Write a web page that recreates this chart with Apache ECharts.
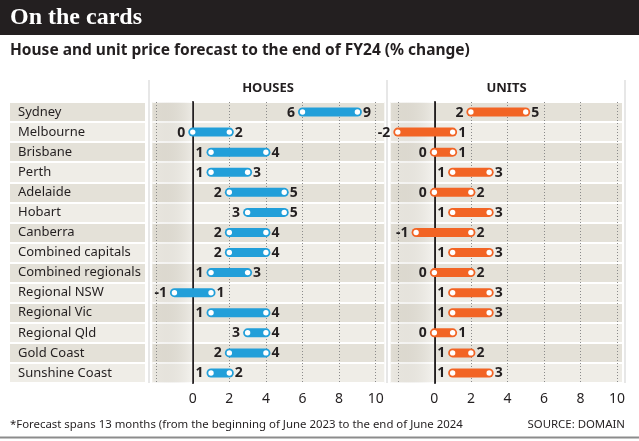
<!DOCTYPE html>
<html>
<head>
<meta charset="utf-8">
<script src="https://cdn.jsdelivr.net/npm/echarts@6/dist/echarts.min.js"></script>
<style>
  html, body { margin: 0; padding: 0; background: #fff; }
  #chart { width: 639px; height: 441px; }
</style>
</head>
<body>
<div id="chart"></div>
<script>
// 数据
const cities = ['Sydney', 'Melbourne', 'Brisbane', 'Perth', 'Adelaide', 'Hobart', 'Canberra',
  'Combined capitals', 'Combined regionals', 'Regional NSW', 'Regional Vic', 'Regional Qld',
  'Gold Coast', 'Sunshine Coast'];
const houseLow = [6, 0, 1, 1, 2, 3, 2, 2, 1, -1, 1, 3, 2, 1];
const houseHigh = [9, 2, 4, 3, 5, 5, 4, 4, 3, 1, 4, 4, 4, 2];
const unitLow = [2, -2, 0, 1, 0, 1, -1, 1, 0, 1, 1, 0, 1, 1];
const unitHigh = [5, 1, 1, 3, 2, 3, 2, 3, 2, 3, 3, 1, 2, 3];
const tickLabels = [0, 2, 4, 6, 8, 10];
const gridTicks = [-2, 0, 2, 4, 6, 8, 10];

const ink = '#231f20';
const font = '"Noto Sans", sans-serif';
const bandColors = ['#e4e1d8', '#efede7'];

function rangeItem(color) {
  return function (params, api) {
    const row = api.value(0);
    const a = api.coord([api.value(1), row]);
    const b = api.coord([api.value(2), row]);
    const numFont = 'bold 14px ' + font;
    return {
      type: 'group',
      children: [
        { type: 'line', shape: { x1: a[0], y1: a[1], x2: b[0], y2: b[1] },
          style: { stroke: color, lineWidth: 9, lineCap: 'round' } },
        { type: 'circle', shape: { cx: a[0], cy: a[1], r: 2.7 }, style: { fill: '#fff' } },
        { type: 'circle', shape: { cx: b[0], cy: b[1], r: 2.7 }, style: { fill: '#fff' } },
        { type: 'text', x: a[0] - 7.5, y: a[1] + 0.5,
          style: { text: String(api.value(1)), align: 'right', verticalAlign: 'middle', font: numFont, fill: ink } },
        { type: 'text', x: b[0] + 5.5, y: b[1] + 0.5,
          style: { text: String(api.value(2)), align: 'left', verticalAlign: 'middle', font: numFont, fill: ink } }
      ]
    };
  };
}

function valueAxis(idx, min, max) {
  return {
    type: 'value',
    gridIndex: idx,
    min: min,
    max: max,
    axisLine: { show: false },
    axisTick: { show: false, customValues: gridTicks },
    axisLabel: { customValues: tickLabels, color: ink, fontSize: 14, fontFamily: font, margin: 9 },
    splitLine: { show: true, lineStyle: { color: '#8a8a8a', type: [1, 2], width: 1 } }
  };
}

function catAxis(idx, showLabel, showLine) {
  return {
    type: 'category',
    gridIndex: idx,
    data: cities,
    inverse: true,
    axisTick: { show: false },
    axisLine: { show: showLine, onZero: true, lineStyle: { color: ink, width: 2 } },
    axisLabel: showLabel
      ? { inside: true, margin: 8, color: ink, fontSize: 13, fontFamily: font }
      : { show: false },
    splitArea: { show: true, areaStyle: { color: bandColors } },
    splitLine: { show: true, lineStyle: { color: '#fff', width: 2 } }
  };
}

// 0 左侧的渐变底色
function zeroShade(min) {
  return {
    silent: true,
    data: [[{ xAxis: min }, { xAxis: 0 }]],
    itemStyle: {
      color: {
        type: 'linear', x: 0, y: 0, x2: 1, y2: 0,
        colorStops: [
          { offset: 0, color: 'rgba(120,110,90,0.04)' },
          { offset: 1, color: 'rgba(255,255,255,0.3)' }
        ]
      }
    }
  };
}

const houseData = cities.map((c, i) => [i, houseLow[i], houseHigh[i]]);
const unitData = cities.map((c, i) => [i, unitLow[i], unitHigh[i]]);

const chart = echarts.init(document.getElementById('chart'));
chart.setOption({
  animation: false,
  backgroundColor: '#fff',
  textStyle: { fontFamily: font },
  grid: [
    { left: 10, width: 135, top: 102, bottom: 58 },
    { left: 152.3, width: 232, top: 102, bottom: 58 },
    { left: 390.7, width: 231.3, top: 102, bottom: 58 }
  ],
  xAxis: [
    { type: 'value', gridIndex: 0, show: false, min: 0, max: 1 },
    valueAxis(1, -2.21, 10.47),
    valueAxis(2, -2.39, 10.27)
  ],
  yAxis: [catAxis(0, true, false), catAxis(1, false, true), catAxis(2, false, true)],
  series: [
    {
      name: 'Houses', type: 'custom', xAxisIndex: 1, yAxisIndex: 1,
      renderItem: rangeItem('#229fd9'),
      encode: { x: [1, 2], y: 0 },
      data: houseData,
      markArea: zeroShade(-2.21)
    },
    {
      name: 'Units', type: 'custom', xAxisIndex: 2, yAxisIndex: 2,
      renderItem: rangeItem('#f26424'),
      encode: { x: [1, 2], y: 0 },
      data: unitData,
      markArea: zeroShade(-2.39)
    }
  ],
  graphic: [
    { type: 'rect', left: 0, top: 0, shape: { width: 639, height: 35 }, style: { fill: ink }, z: -1 },
    { type: 'text', x: 10, y: 18, style: { text: 'On the cards', fill: '#fff',
      font: 'bold 24px "Liberation Serif", serif', verticalAlign: 'middle' } },
    { type: 'text', x: 10, y: 51, style: { text: 'House and unit price forecast to the end of FY24 (% change)',
      fill: ink, font: 'bold 15.5px ' + font, verticalAlign: 'middle' } },
    { type: 'text', x: 268, y: 88, style: { text: 'HOUSES', fill: ink, font: 'bold 13px ' + font,
      align: 'center', verticalAlign: 'middle' } },
    { type: 'text', x: 506.5, y: 88, style: { text: 'UNITS', fill: ink, font: 'bold 13px ' + font,
      align: 'center', verticalAlign: 'middle' } },
    { type: 'line', shape: { x1: 149, y1: 80, x2: 149, y2: 383 }, style: { stroke: '#cfcfcf', lineWidth: 1 } },
    { type: 'line', shape: { x1: 387, y1: 80, x2: 387, y2: 383 }, style: { stroke: '#cfcfcf', lineWidth: 1 } },
    { type: 'line', shape: { x1: 625, y1: 80, x2: 625, y2: 383 }, style: { stroke: '#cfcfcf', lineWidth: 1 } },
    { type: 'text', x: 10, y: 425, style: {
      text: '*Forecast spans 13 months (from the beginning of June 2023 to the end of June 2024',
      fill: ink, font: '11.4px ' + font, verticalAlign: 'middle' } },
    { type: 'text', x: 625, y: 425, style: { text: 'SOURCE: DOMAIN', fill: ink, font: '11.4px ' + font,
      align: 'right', verticalAlign: 'middle' } },
    { type: 'line', shape: { x1: 0, y1: 437.5, x2: 639, y2: 437.5 }, style: { stroke: '#8c8c8c', lineWidth: 2 } }
  ]
});
</script>
</body>
</html>
